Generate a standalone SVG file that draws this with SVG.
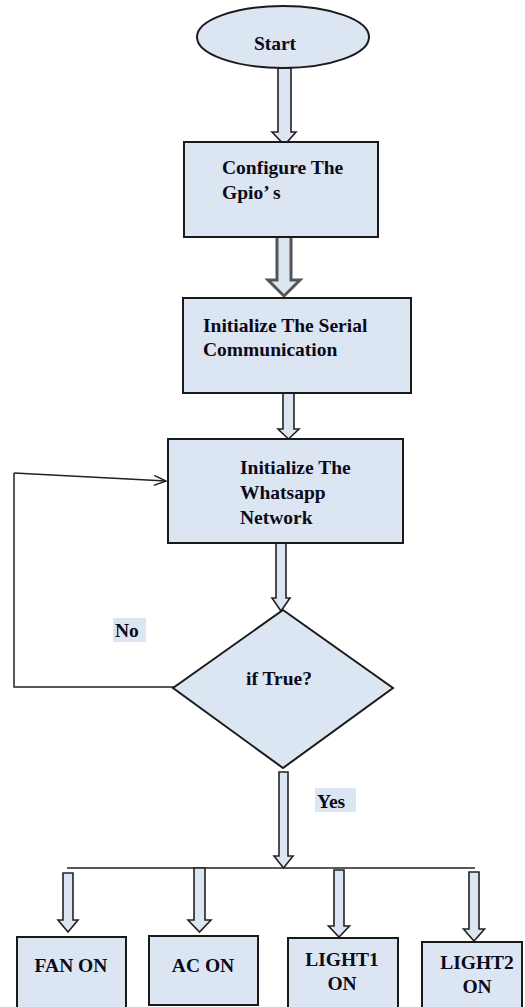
<svg xmlns="http://www.w3.org/2000/svg" width="525" height="1007" viewBox="0 0 525 1007">
<style>
.n{fill:#dce6f2;stroke:#1a1a1a;stroke-width:2}
.a{fill:#dce6f2;stroke:#222;stroke-width:1.6;stroke-linejoin:miter}
.g{fill:#dce6f2;stroke:#555;stroke-width:3}
.l{fill:none;stroke:#222;stroke-width:1.5}
.t{font-family:"Liberation Serif","Times New Roman",serif;font-weight:bold;font-size:19.5px;fill:#0a0a1a}
.lb{fill:#dce6f2}
</style>
<defs>
<marker id="open" markerWidth="14" markerHeight="12" refX="13" refY="6" orient="auto" markerUnits="userSpaceOnUse">
<path d="M1,1 L13,6 L1,11" fill="none" stroke="#222" stroke-width="1.5"/>
</marker>
</defs>
<rect width="525" height="1007" fill="#fff"/>
<g id="connectors">
<path class="a" d="M278,68 L291,68 L291,132 L296,132 L284.5,145 L272,132 L278,132 Z"/>
<path class="g" d="M277,234 L291,234 L291,280 L300,280 L284,296 L268,280 L277,280 Z"/>
<path class="a" d="M283,393 L294,393 L294,429 L299,429 L288.5,439 L278,429 L283,429 Z"/>
<path class="a" d="M276,543 L286,543 L286,598 L290,598 L281,611 L272,598 L276,598 Z"/>
<path class="a" d="M279,772 L288,772 L288,856 L293,856 L283.5,868 L274,856 L279,856 Z"/>
<line class="l" x1="67" y1="868" x2="475" y2="868"/>
<path class="a" d="M63,873 L73,873 L73,920 L78,920 L68,932 L58,920 L63,920 Z"/>
<path class="a" d="M194,868 L205,868 L205,920 L211,920 L199.5,932 L188,920 L194,920 Z"/>
<path class="a" d="M334,870 L344,870 L344,926 L349.5,926 L339,937 L328.5,926 L334,926 Z"/>
<path class="a" d="M469,872 L479,872 L479,929 L484.5,929 L474,941 L463.5,929 L469,929 Z"/>
<polyline class="l" points="175,687 14,687 14,473"/>
<line class="l" x1="14" y1="473" x2="166" y2="481" marker-end="url(#open)"/>
</g>
<g id="start">
<ellipse class="n" cx="283" cy="37" rx="86" ry="31"/>
<text class="t" x="275" y="50" text-anchor="middle">Start</text>
</g>
<g id="configure">
<rect class="n" x="184" y="142" width="194" height="95"/>
<text class="t" x="222" y="174">Configure The</text>
<text class="t" x="222" y="199">Gpio’ s</text>
</g>
<g id="serial">
<rect class="n" x="183" y="298" width="228" height="95"/>
<text class="t" x="203" y="332">Initialize The Serial</text>
<text class="t" x="203" y="356">Communication</text>
</g>
<g id="whatsapp">
<rect class="n" x="168" y="439" width="235" height="104"/>
<text class="t" x="240" y="474">Initialize The</text>
<text class="t" x="240" y="499">Whatsapp</text>
<text class="t" x="240" y="524">Network</text>
</g>
<g id="decision">
<polygon class="n" points="283,610 393,688 283,768 173,688"/>
<text class="t" x="279" y="685" text-anchor="middle">if True?</text>
</g>
<g id="label-no">
<rect class="lb" x="113" y="618" width="33" height="24"/>
<text class="t" x="115" y="637">No</text>
</g>
<g id="label-yes">
<rect class="lb" x="315" y="788" width="41" height="24"/>
<text class="t" x="317" y="808">Yes</text>
</g>
<g id="fan">
<rect class="n" x="17" y="937" width="109" height="80"/>
<text class="t" x="71" y="972" text-anchor="middle">FAN ON</text>
</g>
<g id="ac">
<rect class="n" x="149" y="936" width="109" height="69"/>
<text class="t" x="203" y="972" text-anchor="middle">AC ON</text>
</g>
<g id="light1">
<rect class="n" x="288" y="938" width="110" height="80"/>
<text class="t" x="342" y="966" text-anchor="middle">LIGHT1</text>
<text class="t" x="342" y="990" text-anchor="middle">ON</text>
</g>
<g id="light2">
<rect class="n" x="422" y="942" width="100" height="80"/>
<text class="t" x="477" y="969" text-anchor="middle">LIGHT2</text>
<text class="t" x="477" y="993" text-anchor="middle">ON</text>
</g>
</svg>
